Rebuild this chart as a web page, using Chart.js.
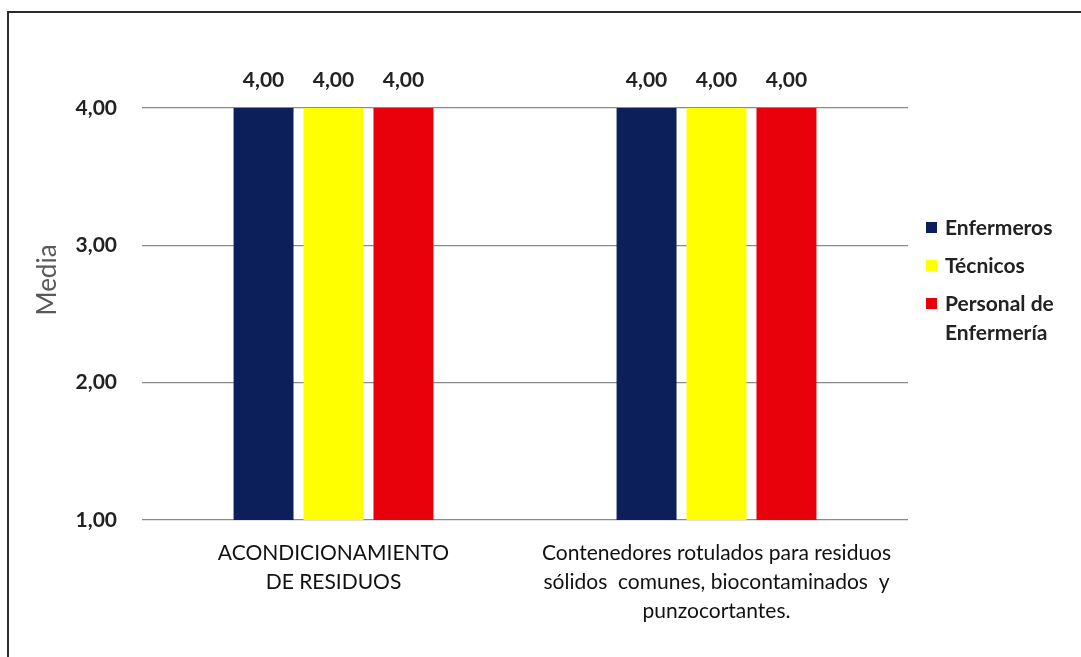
<!DOCTYPE html>
<html lang="es">
<head>
<meta charset="utf-8">
<title>Media por grupo</title>
<script src="https://cdn.jsdelivr.net/npm/chart.js@4.4.1/dist/chart.umd.min.js"></script>
<style>
  html, body { margin: 0; padding: 0; background: #fff; }
  #wrap { position: relative; width: 1081px; height: 657px; overflow: hidden; }
  #frame { position: absolute; left: 7px; top: 11px; right: -4px; bottom: -4px;
           border-left: 2px solid #2b2b2b; border-top: 2px solid #2b2b2b; pointer-events: none; }
  canvas { position: absolute; left: 0; top: 0; }
</style>
</head>
<body>
<div id="wrap">
  <canvas id="chart" width="1081" height="657"></canvas>
  <div id="frame"></div>
</div>
<script>
// Categories (multi-line labels under the axis)
const categories = [
  ['ACONDICIONAMIENTO', 'DE RESIDUOS'],
  ['Contenedores rotulados para residuos', 'sólidos  comunes, biocontaminados  y', 'punzocortantes.']
];

// Series
const seriesNames = ['Enfermeros', 'Técnicos', 'Personal de Enfermería'];
const enfermeros = [4.00, 4.00];
const tecnicos = [4.00, 4.00];
const personalEnfermeria = [4.00, 4.00];
const seriesColors = ['#0c1f5b', '#ffff00', '#e8000a'];

// Value axis
const yTickValues = [1, 2, 3, 4];
const yTickLabels = ['1,00', '2,00', '3,00', '4,00'];
const yTitle = 'Media';

const FONT = 'Lato, "Open Sans", "DejaVu Sans", sans-serif';
const fmt = v => v.toFixed(2).replace('.', ',');

// Value labels above each bar
const valueLabels = {
  id: 'valueLabels',
  afterDatasetsDraw(chart) {
    const ctx = chart.ctx;
    ctx.save();
    ctx.font = 'bold 21px ' + FONT;
    ctx.fillStyle = '#222';
    ctx.textAlign = 'center';
    ctx.textBaseline = 'middle';
    chart.data.datasets.forEach((ds, i) => {
      chart.getDatasetMeta(i).data.forEach((bar, j) => {
        ctx.fillText(fmt(ds.data[j]), bar.x, bar.y - 28);
      });
    });
    ctx.restore();
  }
};

// Rotated value-axis title, sitting a little above the middle of the axis
const axisTitle = {
  id: 'axisTitle',
  afterDraw(chart) {
    const ctx = chart.ctx;
    ctx.save();
    ctx.translate(48, 280);
    ctx.rotate(-Math.PI / 2);
    ctx.font = '26px ' + FONT;
    ctx.fillStyle = '#595959';
    ctx.textAlign = 'center';
    ctx.textBaseline = 'middle';
    ctx.fillText(yTitle, 0, 0);
    ctx.restore();
  }
};

// Legend on the right, wrapping long names
const sideLegend = {
  id: 'sideLegend',
  afterDraw(chart) {
    const ctx = chart.ctx;
    const x0 = 926, textX = 945, maxW = 125, lineH = 29, itemGap = 9;
    let y = 228;
    ctx.save();
    ctx.font = 'bold 21px ' + FONT;
    ctx.textBaseline = 'middle';
    ctx.textAlign = 'left';
    chart.data.datasets.forEach(ds => {
      const words = ds.label.split(' ');
      const lines = [];
      let cur = '';
      words.forEach(w => {
        const test = cur ? cur + ' ' + w : w;
        if (cur && ctx.measureText(test).width > maxW) { lines.push(cur); cur = w; }
        else cur = test;
      });
      if (cur) lines.push(cur);
      ctx.fillStyle = ds.backgroundColor;
      ctx.fillRect(x0, y - 6, 11, 11);
      ctx.fillStyle = '#222';
      lines.forEach((ln, k) => ctx.fillText(ln, textX, y + k * lineH));
      y += (lines.length - 1) * lineH + lineH + itemGap;
    });
    ctx.restore();
  }
};

const seriesData = [enfermeros, tecnicos, personalEnfermeria];

new Chart(document.getElementById('chart'), {
  type: 'bar',
  data: {
    labels: categories,
    datasets: seriesNames.map((name, i) => ({
      label: name,
      data: seriesData[i],
      backgroundColor: seriesColors[i],
      borderWidth: 0,
      categoryPercentage: 0.548,
      barPercentage: 0.857
    }))
  },
  options: {
    responsive: false,
    animation: false,
    devicePixelRatio: 1,
    layout: { padding: { top: 108, right: 173, bottom: 0, left: 0 } },
    plugins: {
      legend: { display: false },
      tooltip: { enabled: false }
    },
    scales: {
      x: {
        grid: { display: false },
        border: { display: false },
        ticks: {
          color: '#111',
          font: { family: FONT, size: 21, lineHeight: 1.38 },
          padding: 11,
          maxRotation: 0,
          autoSkip: false
        },
        afterFit(scale) { scale.height = 137; }
      },
      y: {
        min: 1,
        max: 4,
        afterBuildTicks(scale) { scale.ticks = yTickValues.map(v => ({ value: v })); },
        ticks: {
          color: '#222',
          font: { family: FONT, size: 21, weight: 'bold' },
          padding: 25,
          callback: v => yTickLabels[yTickValues.indexOf(v)]
        },
        grid: { color: '#8a8a8a', lineWidth: 1.3, drawTicks: false },
        border: { display: false },
        afterFit(scale) { scale.width = 142; }
      }
    }
  },
  plugins: [valueLabels, axisTitle, sideLegend]
});
</script>
</body>
</html>
